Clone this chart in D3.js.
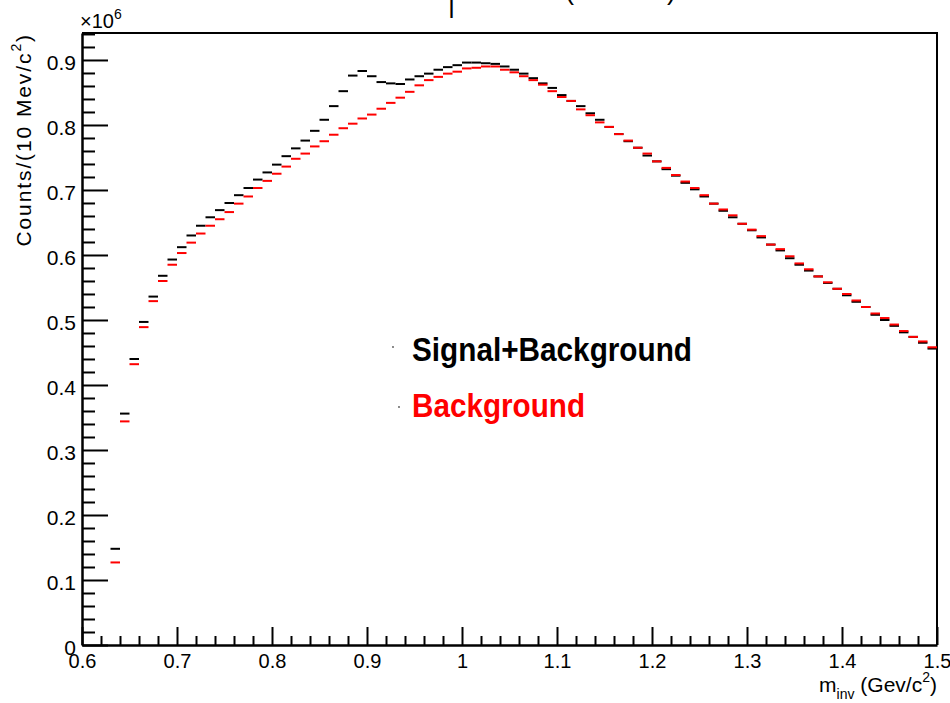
<!DOCTYPE html>
<html>
<head>
<meta charset="utf-8">
<script src="https://cdn.jsdelivr.net/npm/d3@7"></script>
<style>
  body { margin: 0; background: #fff; }
  svg { display: block; }
  text { font-family: "Liberation Sans", Arial, Helvetica, sans-serif; }
</style>
</head>
<body>
<svg id="chart" width="950" height="703"></svg>
<script>
// Invariant-mass histograms, 10 MeV bins from 0.60 to 1.50 GeV/c^2.
// Contents are in units of 10^6 counts; null marks an empty bin.
const binWidth = 0.01;
const binLowEdges = d3.range(90).map(i => Math.round((0.60 + i * binWidth) * 100) / 100);

const signalPlusBackground = [
  null, null, null, 0.148, 0.356, 0.440, 0.497, 0.536, 0.568, 0.593,
  0.612, 0.630, 0.645, 0.658, 0.669, 0.680, 0.692, 0.703, 0.716, 0.727,
  0.739, 0.752, 0.764, 0.776, 0.791, 0.808, 0.829, 0.852, 0.876, 0.883,
  0.875, 0.866, 0.864, 0.863, 0.870, 0.875, 0.879, 0.885, 0.889, 0.892,
  0.896, 0.896, 0.895, 0.894, 0.890, 0.885, 0.879, 0.872, 0.864, 0.857,
  0.846, 0.837, 0.829, 0.818, 0.808, 0.797, 0.786, 0.775, 0.765, 0.753,
  0.744, 0.732, 0.722, 0.711, 0.701, 0.690, 0.679, 0.668, 0.658, 0.648,
  0.638, 0.627, 0.616, 0.607, 0.595, 0.585, 0.576, 0.567, 0.557, 0.548,
  0.538, 0.528, 0.520, 0.508, 0.500, 0.491, 0.481, 0.474, 0.465, 0.456
];

const backgroundOnly = [
  null, null, null, 0.127, 0.344, 0.432, 0.489, 0.529, 0.560, 0.585,
  0.603, 0.619, 0.633, 0.645, 0.655, 0.666, 0.679, 0.690, 0.703, 0.714,
  0.725, 0.736, 0.748, 0.756, 0.767, 0.775, 0.785, 0.795, 0.802, 0.810,
  0.816, 0.825, 0.834, 0.842, 0.851, 0.861, 0.869, 0.874, 0.879, 0.882,
  0.887, 0.888, 0.890, 0.890, 0.885, 0.881, 0.875, 0.869, 0.862, 0.852,
  0.843, 0.837, 0.824, 0.815, 0.804, 0.797, 0.786, 0.776, 0.765, 0.756,
  0.744, 0.734, 0.723, 0.713, 0.703, 0.692, 0.679, 0.670, 0.661, 0.648,
  0.639, 0.629, 0.616, 0.609, 0.598, 0.587, 0.578, 0.567, 0.558, 0.548,
  0.540, 0.530, 0.520, 0.510, 0.503, 0.493, 0.483, 0.474, 0.467, 0.458
];

const xMajorTicks = [0.6, 0.7, 0.8, 0.9, 1.0, 1.1, 1.2, 1.3, 1.4, 1.5];
const xMinorTicks = d3.range(0.62, 1.5, 0.02).map(v => Math.round(v * 100) / 100)
  .filter(v => Math.abs(v * 10 - Math.round(v * 10)) > 1e-6);
const yMajorTicks = [0, 0.1, 0.2, 0.3, 0.4, 0.5, 0.6, 0.7, 0.8, 0.9];
const yMinorTicks = d3.range(0.02, 0.95, 0.02).map(v => Math.round(v * 100) / 100)
  .filter(v => Math.abs(v * 10 - Math.round(v * 10)) > 1e-6);

const seriesNames = ["Signal+Background", "Background"];
const seriesColors = ["#000000", "#ff0000"];

// Frame geometry
const frame = { left: 82, right: 937, top: 33, bottom: 645 };

const svg = d3.select("#chart");

const x = d3.scaleLinear().domain([0.6, 1.5]).range([frame.left, frame.right]);
const y = d3.scaleLinear().domain([0, 0.9415]).range([frame.bottom, frame.top]);

// Title (sits above the canvas top edge)
const title = svg.append("text").attr("font-size", 27).attr("fill", "#000");
title.append("tspan").attr("x", 448).attr("y", 11.5).text("|");
title.append("tspan").attr("x", 565).attr("y", -1).text("(10 MeV)");

// Minor ticks
svg.append("g")
  .attr("transform", `translate(${frame.left},0)`)
  .call(d3.axisLeft(y).tickValues(yMinorTicks).tickSize(-13).tickFormat(""))
  .call(g => g.select(".domain").remove())
  .call(g => g.selectAll("line").attr("stroke", "#000").attr("stroke-width", 2));

svg.append("g")
  .attr("transform", `translate(0,${frame.bottom})`)
  .call(d3.axisBottom(x).tickValues(xMinorTicks).tickSize(-9).tickFormat(""))
  .call(g => g.select(".domain").remove())
  .call(g => g.selectAll("line").attr("stroke", "#000").attr("stroke-width", 2));

// Major y axis
const yAxis = svg.append("g")
  .attr("transform", `translate(${frame.left},0)`)
  .call(d3.axisLeft(y).tickValues(yMajorTicks).tickSizeInner(-26).tickSizeOuter(0)
    .tickPadding(6).tickFormat(d => d === 0 ? "0" : d.toFixed(1)));
yAxis.select(".domain").attr("stroke", "#000").attr("stroke-width", 2.5);
yAxis.selectAll("line").attr("stroke", "#000").attr("stroke-width", 2);
yAxis.selectAll("text").attr("font-size", 21).attr("fill", "#000")
  .attr("font-family", "'Liberation Sans', Arial, sans-serif").attr("dy", "0.43em");

// Major x axis
const xAxis = svg.append("g")
  .attr("transform", `translate(0,${frame.bottom})`)
  .call(d3.axisBottom(x).tickValues(xMajorTicks).tickSizeInner(-18).tickSizeOuter(0)
    .tickPadding(9).tickFormat(d => String(+d.toFixed(1))));
xAxis.select(".domain").attr("stroke", "#000").attr("stroke-width", 2.5);
xAxis.selectAll("line").attr("stroke", "#000").attr("stroke-width", 2);
xAxis.selectAll("text").attr("font-size", 20).attr("fill", "#000")
  .attr("font-family", "'Liberation Sans', Arial, sans-serif");

// Frame top and right edges
svg.append("path")
  .attr("d", `M${frame.left},${frame.top}H${frame.right}V${frame.bottom}`)
  .attr("fill", "none").attr("stroke", "#000").attr("stroke-width", 2);

// Exponent label
const expo = svg.append("text").attr("x", 80).attr("y", 28).attr("font-size", 20).attr("fill", "#000");
expo.append("tspan").text("\u00d710");
expo.append("tspan").attr("font-size", 14).attr("dy", -9).text("6");

// Axis titles
const xt = svg.append("text").attr("x", 937).attr("y", 692)
  .attr("text-anchor", "end").attr("font-size", 21).attr("fill", "#000");
xt.append("tspan").text("m");
xt.append("tspan").attr("font-size", 14).attr("dy", 7).text("inv");
xt.append("tspan").attr("dy", -7).text(" (Gev/c");
xt.append("tspan").attr("font-size", 14).attr("dy", -10).text("2");
xt.append("tspan").attr("dy", 10).text(")");

const yt = svg.append("text")
  .attr("transform", `translate(31,${frame.top}) rotate(-90)`)
  .attr("text-anchor", "end").attr("font-size", 21).attr("fill", "#000")
  .attr("letter-spacing", 1.9);
yt.append("tspan").text("Counts/(10 Mev/c");
yt.append("tspan").attr("font-size", 14).attr("dy", -10).text("2");
yt.append("tspan").attr("dy", 10).text(")");

// Histogram contents: one horizontal segment per filled bin
const seriesValues = [signalPlusBackground, backgroundOnly];
seriesValues.forEach((vals, s) => {
  const bins = binLowEdges.map((lo, i) => ({ lo, v: vals[i] })).filter(d => d.v !== null);
  svg.append("g").selectAll("line").data(bins).join("line")
    .attr("x1", d => x(d.lo))
    .attr("x2", d => x(d.lo + binWidth))
    .attr("y1", d => y(d.v))
    .attr("y2", d => y(d.v))
    .attr("stroke", seriesColors[s])
    .attr("stroke-width", 2);
});

// Legend
const legend = [
  { name: seriesNames[0], color: seriesColors[0], mx: 393, my: 347, ty: 361, len: 280 },
  { name: seriesNames[1], color: seriesColors[1], mx: 399, my: 407, ty: 416.5, len: 173 }
];
legend.forEach(e => {
  svg.append("circle").attr("cx", e.mx).attr("cy", e.my).attr("r", 0.9).attr("fill", "#555");
  svg.append("text").attr("x", 412).attr("y", e.ty)
    .attr("font-size", 34).attr("font-weight", "bold").attr("fill", e.color)
    .attr("textLength", e.len).attr("lengthAdjust", "spacingAndGlyphs")
    .text(e.name);
});
</script>
</body>
</html>
